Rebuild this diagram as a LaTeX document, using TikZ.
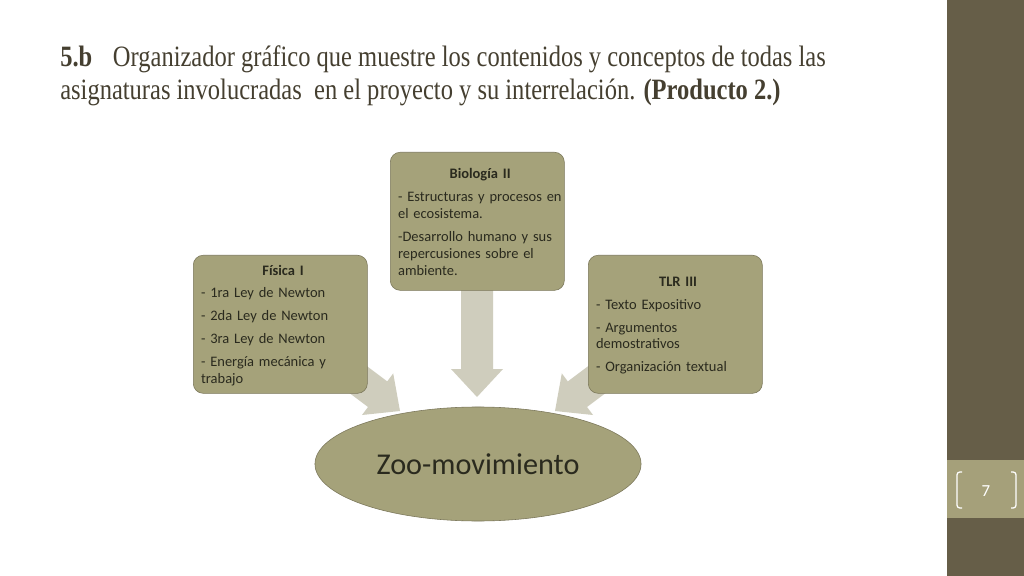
\documentclass[tikz,border=0pt]{standalone}
\usepackage{fontspec}
\setmainfont{Carlito}
\newfontfamily\titlefont[FakeStretch=0.83]{Liberation Serif}
\usetikzlibrary{shapes.geometric}

\definecolor{boxolive}{HTML}{A5A27A}
\definecolor{boxedge}{HTML}{7A7659}
\definecolor{arrowgray}{HTML}{CFCDBD}
\definecolor{barbrown}{HTML}{665E48}
\definecolor{bandkhaki}{HTML}{A5A07A}
\definecolor{titlebrown}{HTML}{453F30}
\definecolor{inkdark}{HTML}{2A2A1E}

% block arrow: tip, angle, length
\newcommand\blockarrow[3]{%
  \fill[arrowgray,shift={(#1)},rotate=#2] (0,0)--(-28,26)--(-28,16)--(-#3,16)--(-#3,-16)--(-28,-16)--(-28,-26)--cycle;}
\newcommand\gap{\par\vspace{4.3pt}}

\begin{document}
\begin{tikzpicture}[x=0.025cm,y=-0.025cm,
    subjbox/.style={draw=boxedge,fill=boxolive,rounded corners=7pt,anchor=north west,
      minimum width=4.35cm,minimum height=3.45cm,inner sep=0pt},
    subjtext/.style={anchor=north,text width=4.1cm,inner sep=0pt,text=inkdark,
      font=\fontsize{10.3}{12}\selectfont,xshift=2pt},
    titleline/.style={anchor=base west,inner sep=0pt,text=titlebrown,
      font=\titlefont\fontsize{21}{23.5}\selectfont}]
        \useasboundingbox (0,0) rectangle (1024,576);
        \fill[white] (0,0) rectangle (1024,576);
        % side bar
        \fill[barbrown] (947,0) rectangle (1024,576);
        \fill[bandkhaki] (947,460) rectangle (1024,518);
        \draw[white,line width=0.9pt,rounded corners=2pt] (962,472)--(957,472)--(957,508)--(962,508);
        \draw[white,line width=0.9pt,rounded corners=2pt] (1011,472)--(1016,472)--(1016,508)--(1011,508);
        \node[text=white,font=\fontsize{12}{14}\selectfont] (pnum) at (986,491) {7};
        % title
        \node[titleline] (title1) at (60,67) {\textbf{5.b}\hspace{0.7em}Organizador gráfico que muestre los contenidos y conceptos de todas las};
        \node[titleline] (title2) at (60,100) {asignaturas involucradas\ \ en el proyecto y su interrelación. \textbf{(Producto 2.)}};
        % arrows
        \coordinate (tipF) at (400,411);
        \coordinate (tipB) at (477,397);
        \coordinate (tipT) at (555,411);
        \blockarrow{tipF}{-36.87}{75}
        \blockarrow{tipB}{-90}{115}
        \blockarrow{tipT}{-143.13}{75}
        % boxes
        \node[subjbox] (fis) at (193,255) {};
        \node[subjtext] at ([yshift=-6.8pt]fis.north) {\centering\textbf{Física I}\gap\raggedright
          - 1ra Ley de Newton\gap
          - 2da Ley de Newton\gap
          - 3ra Ley de Newton\gap
          - Energía mecánica y\\trabajo\par};
        \node[subjbox] (bio) at (390,152) {};
        \node[subjtext] at ([yshift=-11.7pt]bio.north) {\centering\textbf{Biología II}\gap\raggedright
          - Estructuras y procesos en\\el ecosistema.\gap
          -Desarrollo humano y sus\\repercusiones sobre el\\ambiente.\par};
        \node[subjbox] (tlr) at (588,255) {};
        \node[subjtext] at ([yshift=-15.3pt]tlr.north) {\centering\textbf{TLR III}\gap\raggedright
          - Texto Expositivo\gap
          - Argumentos\\demostrativos\gap
          - Organización textual\par};
        % centre
        \node[ellipse,draw=boxedge,fill=boxolive,minimum width=8.15cm,minimum height=2.85cm,
          text=inkdark,font=\fontsize{21.5}{25}\selectfont] (zoo) at (478,464) {Zoo-movimiento};
    \end{tikzpicture}
\end{document}
